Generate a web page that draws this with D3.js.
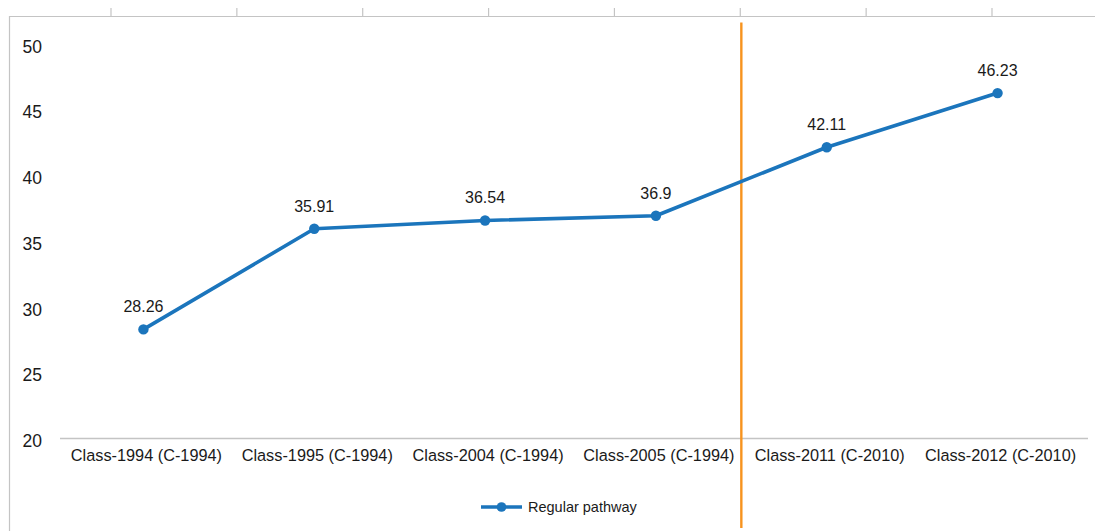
<!DOCTYPE html>
<html>
<head>
<meta charset="utf-8">
<script src="https://cdn.jsdelivr.net/npm/d3@7"></script>
<style>
  html, body { margin: 0; padding: 0; background: #fff; }
  svg { display: block; font-family: "Liberation Sans", Arial, sans-serif; }
</style>
</head>
<body>
<svg id="chart" width="1095" height="531"></svg>
<script>
const categories = ["Class-1994 (C-1994)", "Class-1995 (C-1994)", "Class-2004 (C-1994)", "Class-2005 (C-1994)", "Class-2011 (C-2010)", "Class-2012 (C-2010)"];
const values = [28.26, 35.91, 36.54, 36.9, 42.11, 46.23];
const yTicks = [20, 25, 30, 35, 40, 45, 50];
const seriesName = "Regular pathway";
const dividerAfter = "Class-2005 (C-1994)";
const frameTicks = [0, 1, 2, 3, 4, 5, 6, 7];

const svg = d3.select("#chart");
const blue = "#1b75bc";
const grey = "#c4c4c4";

const x = d3.scaleBand().domain(categories).range([58, 1083]).padding(0);
const y = d3.scaleLinear().domain([20, 50]).range([438, 43.5]);
const cx = d => x(d) + x.bandwidth() / 2;

// outer frame (left and top edges with upward ticks)
svg.append("line").attr("x1", 9.5).attr("x2", 9.5).attr("y1", 16).attr("y2", 531)
  .attr("stroke", grey).attr("stroke-width", 1.2);
svg.append("line").attr("x1", 9).attr("x2", 1095).attr("y1", 16.5).attr("y2", 16.5)
  .attr("stroke", grey).attr("stroke-width", 1.2);
const fx = d3.scaleLinear().domain([0, 7]).range([111, 992]);
svg.selectAll(".ftick").data(frameTicks).enter().append("line")
  .attr("x1", d => fx(d)).attr("x2", d => fx(d)).attr("y1", 8).attr("y2", 16)
  .attr("stroke", grey).attr("stroke-width", 1.2);

// x axis baseline
svg.append("line").attr("x1", 60).attr("x2", 1088).attr("y1", y(20) + 0.5).attr("y2", y(20) + 0.5)
  .attr("stroke", grey).attr("stroke-width", 1.3);

// y tick labels
svg.selectAll(".ylab").data(yTicks).enter().append("text")
  .attr("x", 42).attr("y", d => y(d) + 3).attr("dy", "0.35em")
  .attr("text-anchor", "end").attr("font-size", 17.5).attr("fill", "#1a1a1a")
  .text(d => d);

// x category labels
svg.selectAll(".xlab").data(categories).enter().append("text")
  .attr("x", d => cx(d) + 3).attr("y", 461)
  .attr("text-anchor", "middle").attr("font-size", 16.3).attr("fill", "#1a1a1a")
  .text(d => d);

// divider line
const dx = x(dividerAfter) + x.bandwidth();
svg.append("line").attr("x1", dx).attr("x2", dx).attr("y1", 22.5).attr("y2", 528)
  .attr("stroke", "#f7931e").attr("stroke-width", 2.4);

// series line
const data = categories.map((c, i) => ({c, v: values[i]}));
svg.append("path").datum(data)
  .attr("fill", "none").attr("stroke", blue).attr("stroke-width", 3.6)
  .attr("stroke-linejoin", "round")
  .attr("d", d3.line().x(d => cx(d.c)).y(d => y(d.v)));
svg.selectAll(".pt").data(data).enter().append("circle")
  .attr("cx", d => cx(d.c)).attr("cy", d => y(d.v)).attr("r", 5.2).attr("fill", blue);

// data labels
svg.selectAll(".dlab").data(data).enter().append("text")
  .attr("x", d => cx(d.c)).attr("y", d => y(d.v) - 17)
  .attr("text-anchor", "middle").attr("font-size", 16).attr("fill", "#1a1a1a")
  .text(d => d.v);

// legend
const lg = svg.append("g");
lg.append("line").attr("x1", 481).attr("x2", 522).attr("y1", 507).attr("y2", 507)
  .attr("stroke", blue).attr("stroke-width", 3.6);
lg.append("circle").attr("cx", 501.5).attr("cy", 507).attr("r", 4.8).attr("fill", blue);
lg.append("text").attr("x", 528).attr("y", 512).attr("font-size", 14.5).attr("fill", "#1a1a1a")
  .text(seriesName);
</script>
</body>
</html>
